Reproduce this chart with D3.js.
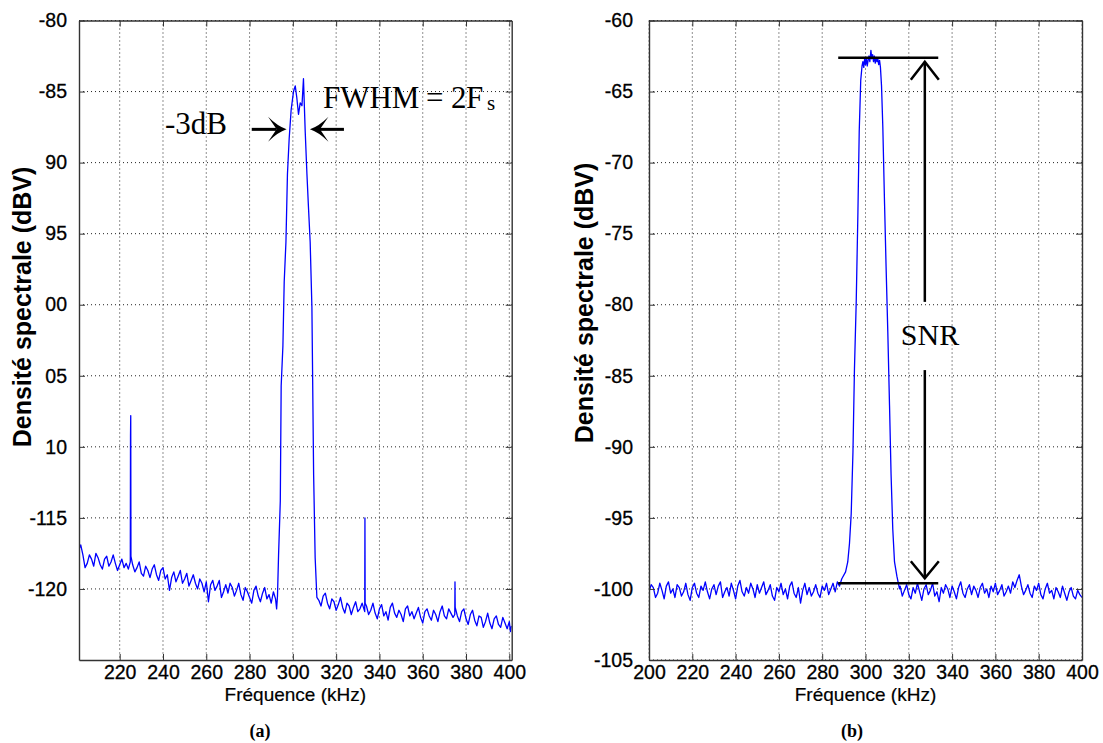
<!DOCTYPE html>
<html><head><meta charset="utf-8">
<script src="https://cdn.jsdelivr.net/npm/d3@7"></script>
<style>body{margin:0;background:#fff}svg{display:block}</style>
</head><body>
<svg id="c" width="1103" height="743"></svg>
<script>
// ---------- Panel (a) data ----------
const freqA = [201,202,203,204,205,206,207,208,209,210,211,212,213,214,215,216,217,218,219,220,221,222,223,224,224.9,225.0,225.1,225.2,226,227,228,229,230,231,232,233,234,235,236,237,238,239,240,241,242,243,244,245,246,247,248,249,250,251,252,253,254,255,256,257,258,259,260,261,262,263,264,265,266,267,268,269,270,271,272,273,274,275,276,277,278,279,280,281,282,283,284,285,286,287,288,289,290,291,292,292.5,292.9,
293.4,294.2,294.6,295.4,296.0,296.8,297.5,298.3,299.2,300.3,301.1,301.8,302.6,303.4,304.2,304.9,305.7,306.5,307.2,308.0,308.8,309.6,310.3,311.1,
312,313,314,315,316,317,318,319,320,321,322,323,324,325,326,327,328,329,330,331,332,333.2,333.3,333.4,334,335,336,337,338,339,340,341,342,343,344,345,346,347,348,349,350,351,352,353,354,355,356,357,358,359,360,361,362,363,364,365,366,367,368,369,370,371,372,373,374,374.8,374.9,375.0,376,377,378,379,380,381,382,383,384,385,386,387,388,389,390,391,392,393,394,395,396,397,398,399,400,400.5,401];
const valA = [-117.3,-116.9,-117.6,-118.5,-118.2,-117.6,-117.9,-118.4,-117.5,-117.8,-118.3,-118.6,-117.9,-117.7,-118.4,-118.1,-117.6,-118.2,-118.7,-118.3,-117.9,-118.5,-118.2,-118.6,
-118.1,-109.2,-107.8,-117.7,
-118.3,-118.8,-118.5,-118.1,-118.9,-119.1,-118.4,-118.7,-119.2,-118.6,-118.3,-119.0,-119.4,-118.7,-118.5,-119.3,-119.0,-120.1,-119.2,-118.8,-119.5,-119.1,-118.7,-119.6,-119.3,-118.9,-119.8,-119.4,-119.0,-119.6,-120.0,-119.3,-119.6,-120.2,-119.5,-120.9,-119.7,-119.4,-120.1,-119.8,-119.4,-120.6,-120.2,-119.7,-120.3,-119.6,-119.9,-120.5,-120.1,-119.6,-120.4,-120.8,-119.9,-120.2,-120.6,-121.0,-120.1,-119.8,-120.5,-120.9,-120.3,-119.9,-120.7,-120.4,-121.0,-120.2,-120.7,
-121.4,-120.5,
-117.6,-113.8,-105.7,-102.9,-98.4,-95.6,-90.8,-88.3,-86.3,-85.0,-84.6,-85.4,-86.6,-85.8,-86.0,-84.1,-87.8,-90.8,-93.1,-95.6,-100.2,-112.0,-117.8,-120.6,
-120.8,-121.2,-120.5,-120.3,-121.0,-121.4,-120.7,-120.9,-121.5,-121.1,-120.6,-121.3,-121.7,-121.0,-121.2,-121.8,-121.3,-120.9,-121.6,-121.4,-121.0,
-121.6,-115.0,-121.0,
-121.2,-121.8,-121.5,-121.0,-121.7,-122.1,-121.4,-121.1,-121.9,-121.6,-122.2,-121.3,-121.0,-121.7,-122.0,-121.5,-121.8,-122.3,-121.4,-121.2,-121.9,-121.6,-122.1,-121.7,-121.3,-122.0,-122.4,-121.6,-121.4,-121.9,-122.2,-121.5,-121.8,-122.3,-121.6,-121.2,-121.9,-122.1,-121.4,-121.7,-122.0,
-121.8,-119.5,-121.3,
-121.9,-122.3,-121.6,-121.4,-122.1,-122.5,-121.8,-121.5,-122.2,-122.6,-121.9,-122.0,-122.7,-122.3,-121.7,-122.4,-122.8,-122.1,-121.9,-122.5,-122.7,-122.0,-122.4,-122.8,-122.3,
-123.0,-122.6];
const xTicksA = [220,240,260,280,300,320,340,360,380,400];
const yTicksA = [-80,-85,-90,-95,-100,-105,-110,-115,-120];
const yLabelsA = ["-80","-85","90","95","00","05","10","-115","-120"];

// ---------- Panel (b) data ----------
const freqB = [200,201,202,203,204,205,206,207,208,209,210,211,212,213,214,215,216,217,218,219,220,221,222,223,224,225,226,227,228,229,230,231,232,233,234,235,236,237,238,239,240,241,242,243,244,245,246,247,248,249,250,251,252,253,254,255,256,257,258,259,260,261,262,263,264,265,266,267,268,269,270,271,272,273,274,275,276,277,278,279,280,281,282,283,284,285,286,287,288,289,
290.8,291.8,292.6,293.4,294.2,294.9,295.7,296.5,297.1,297.8,298.4,298.8,299.2,299.6,300.0,300.4,300.8,301.2,301.6,302.0,302.5,302.9,303.3,303.7,304.1,304.5,304.9,305.3,305.7,306.1,306.5,306.9,307.4,308.0,308.8,309.5,310.3,311.1,311.8,312.6,313.4,314.5,315.7,
316,317,318,319,320,321,322,323,324,325,326,327,328,329,330,331,332,333,334,335,336,337,338,339,340,341,342,343,344,345,346,347,348,349,350,351,352,353,354,355,356,357,358,359,360,361,362,363,364,365,366,367,368,369,370,371,372,373,374,375,376,377,378,379,380,381,382,383,384,385,386,387,388,389,390,391,392,393,394,395,396,397,398,399,400];
const valB = [-100.2,-99.7,-99.9,-100.6,-100.3,-99.6,-100.1,-100.7,-99.8,-99.5,-100.3,-100.0,-100.6,-99.7,-99.9,-100.5,-100.2,-99.6,-100.4,-100.8,-99.9,-99.6,-100.3,-100.6,-99.8,-100.1,-99.5,-100.2,-100.7,-100.0,-99.7,-100.4,-99.8,-99.5,-100.6,-100.2,-99.9,-100.5,-99.6,-100.1,-100.7,-99.8,-99.4,-100.2,-100.5,-99.9,-100.3,-99.6,-100.0,-100.6,-99.7,-100.3,-99.9,-99.5,-100.4,-100.1,-99.7,-100.5,-100.8,-99.9,-100.2,-99.6,-100.4,-100.0,-100.7,-99.8,-99.5,-100.3,-100.6,-99.9,-101.0,-100.1,-99.6,-100.4,-99.9,-100.5,-100.2,-99.7,-100.3,-100.6,-99.8,-100.1,-99.6,-100.4,-100.0,-99.6,-100.2,-99.5,-99.8,-99.3,
-98.8,-98.1,-96.8,-94.7,-90.4,-84.5,-79.9,-73.5,-67.8,-64.2,-63.2,-62.9,-63.3,-62.7,-63.1,-62.6,-63.2,-62.8,-62.5,-62.9,-62.1,-62.7,-62.4,-62.9,-62.5,-63.0,-62.6,-62.9,-62.7,-63.1,-62.8,-63.3,-64.6,-67.5,-72.9,-77.3,-81.9,-87.1,-91.9,-95.8,-98.1,-99.1,-100.0,
-99.8,-100.5,-100.1,-99.7,-100.4,-100.7,-99.9,-100.3,-99.6,-100.2,-100.8,-100.0,-99.7,-100.4,-100.1,-99.6,-100.5,-100.2,-100.9,-99.9,-100.3,-99.7,-100.0,-100.6,-99.8,-100.2,-100.7,-99.9,-99.5,-100.3,-100.6,-100.0,-99.7,-100.4,-99.8,-100.1,-100.6,-99.9,-99.6,-100.3,-100.0,-100.6,-99.8,-100.2,-99.6,-100.4,-100.1,-99.7,-100.5,-100.2,-99.8,-100.3,-99.5,-99.9,-99.4,-99.0,-99.8,-100.4,-100.1,-99.7,-100.3,-100.6,-99.8,-100.1,-99.6,-100.4,-100.7,-100.0,-99.6,-100.3,-100.1,-100.7,-99.9,-100.2,-100.6,-99.8,-100.3,-100.8,-100.2,-99.9,-100.5,-100.7,-100.1,-100.4,-100.6];
const xTicksB = [200,220,240,260,280,300,320,340,360,380,400];
const yTicksB = [-60,-65,-70,-75,-80,-85,-90,-95,-100,-105];
const yLabelsB = ["-60","-65","-70","-75","-80","-85","-90","-95","-100","-105"];

const svg = d3.select("#c");
const SANS = "'Liberation Sans', Arial, sans-serif";
const SERIF = "'Liberation Serif', 'Times New Roman', serif";

function panel(cfg){
  const g = svg.append("g");
  const x = d3.scaleLinear().domain(cfg.xDomain).range([cfg.x0, cfg.x1]);
  const y = d3.scaleLinear().domain(cfg.yDomain).range([cfg.y1, cfg.y0]);
  const cid = "clip" + cfg.id;
  svg.append("clipPath").attr("id", cid).append("rect")
    .attr("x", cfg.x0).attr("y", cfg.y0).attr("width", cfg.x1 - cfg.x0).attr("height", cfg.y1 - cfg.y0);
  // grid
  g.append("g").selectAll("line").data(cfg.xTicks).join("line")
    .attr("x1", d => x(d)).attr("x2", d => x(d)).attr("y1", cfg.y0).attr("y2", cfg.y1)
    .attr("stroke", "#222").attr("stroke-width", 1).attr("stroke-dasharray", "1,3");
  g.append("g").selectAll("line").data(cfg.yTicks).join("line")
    .attr("x1", cfg.x0).attr("x2", cfg.x1).attr("y1", d => y(d)).attr("y2", d => y(d))
    .attr("stroke", "#222").attr("stroke-width", 1).attr("stroke-dasharray", "1,3");
  // data line
  const n = Math.min(cfg.freq.length, cfg.val.length);
  const pts = cfg.freq.slice(0, n).map((f, i) => [f, cfg.val[i]]);
  g.append("path").datum(pts).attr("clip-path", `url(#${cid})`)
    .attr("fill", "none").attr("stroke", "#0000ff").attr("stroke-width", 1.3)
    .attr("stroke-linejoin", "round")
    .attr("d", d3.line().x(d => x(d[0])).y(d => y(d[1])));
  // axes
  const axStyle = sel => { sel.attr("color", "#333"); sel.select(".domain").attr("stroke-width", 1.4); sel.selectAll(".tick line").attr("stroke-width", 1); };
  const txt = s => s.selectAll("text").attr("font-family", SANS).attr("font-size", 19.5)
    .attr("fill", "#000").attr("stroke", "#000").attr("stroke-width", 0.3);
  g.append("g").attr("transform", `translate(0,${cfg.y1})`)
    .call(d3.axisBottom(x).tickValues(cfg.xTicks).tickFormat(d3.format("d")).tickSizeInner(-6).tickSizeOuter(0).tickPadding(5))
    .call(axStyle).call(txt);
  g.append("g").attr("transform", `translate(0,${cfg.y0})`)
    .call(d3.axisTop(x).tickValues(cfg.xTicks).tickFormat("").tickSizeInner(-6).tickSizeOuter(0)).call(axStyle);
  g.append("g").attr("transform", `translate(${cfg.x0},0)`)
    .call(d3.axisLeft(y).tickValues(cfg.yTicks).tickFormat((d, i) => cfg.yLabels[i]).tickSizeInner(-6).tickSizeOuter(0).tickPadding(cfg.yPad))
    .call(axStyle).call(txt);
  g.append("g").attr("transform", `translate(${cfg.x1},0)`)
    .call(d3.axisRight(y).tickValues(cfg.yTicks).tickFormat("").tickSizeInner(-6).tickSizeOuter(0)).call(axStyle);
  // labels
  svg.append("text").attr("x", (cfg.x0 + cfg.x1) / 2).attr("y", 701)
    .attr("text-anchor", "middle").attr("font-family", SANS).attr("font-size", 19)
    .attr("stroke", "#000").attr("stroke-width", 0.2).text("Fréquence (kHz)");
  svg.append("text").attr("transform", `translate(${cfg.yLabelX},${cfg.yLabelY}) rotate(-90)`)
    .attr("text-anchor", "middle").attr("font-family", SANS).attr("font-weight", "bold").attr("font-size", 25)
    .text("Densité spectrale (dBV)");
  svg.append("text").attr("x", cfg.tagX).attr("y", 737).attr("text-anchor", "middle")
    .attr("font-family", SERIF).attr("font-weight", "bold").attr("font-size", 18).text(cfg.tag);
  return {x, y, g};
}

const A = panel({id:"a", freq:freqA, val:valA, xDomain:[201.2, 401.1], yDomain:[-125, -80],
  x0:79, x1:511.7, y0:20.5, y1:660, xTicks:xTicksA, yTicks:yTicksA, yLabels:yLabelsA, yPad:12,
  yLabelX:31, yLabelY:307, tag:"(a)", tagX:260});
const B = panel({id:"b", freq:freqB, val:valB, xDomain:[200, 400], yDomain:[-105, -60],
  x0:649, x1:1082, y0:20.5, y1:660, xTicks:xTicksB, yTicks:yTicksB, yLabels:yLabelsB, yPad:16,
  yLabelX:593, yLabelY:303, tag:"(b)", tagX:852});

// ---------- Annotations panel (a) ----------
function filledArrow(g, tailX, tipX, yy, dir){
  g.append("line").attr("x1", tailX).attr("x2", tipX - dir * 10).attr("y1", yy).attr("y2", yy)
    .attr("stroke", "#000").attr("stroke-width", 3);
  const L = 18.5, W = 12.5, N = 10;
  g.append("path").attr("fill", "#000")
    .attr("d", `M${tipX},${yy} Q${tipX - dir*9},${yy - 3} ${tipX - dir*L},${yy - W} L${tipX - dir*N},${yy} L${tipX - dir*L},${yy + W} Q${tipX - dir*9},${yy + 3} ${tipX},${yy} Z`);
}
const ga = svg.append("g");
const arrowYA = A.y(-87.66);
filledArrow(ga, A.x(281.0), A.x(297.1), arrowYA, 1);
filledArrow(ga, A.x(323.6), A.x(307.9), arrowYA, -1);
ga.append("text").attr("x", A.x(240.9)).attr("y", A.y(-88.0)).attr("font-family", SERIF).attr("font-size", 31).text("-3dB");
const fx = A.x(313.9), fy = A.y(-86.18);
ga.append("text").attr("x", fx).attr("y", fy).attr("font-family", SERIF).attr("font-size", 31).text("FWHM");
ga.append("text").attr("x", fx + 103).attr("y", fy).attr("font-family", SERIF).attr("font-size", 31).text("=");
ga.append("text").attr("x", fx + 128).attr("y", fy).attr("font-family", SERIF).attr("font-size", 31).text("2");
ga.append("text").attr("x", fx + 143).attr("y", fy).attr("font-family", SERIF).attr("font-size", 31).text("F");
ga.append("text").attr("x", fx + 164).attr("y", fy + 2).attr("font-family", SERIF).attr("font-size", 21).text("s");

// ---------- Annotations panel (b) ----------
const gb = svg.append("g").attr("stroke", "#000").attr("fill", "none");
const ax = B.x(327.4);
gb.append("line").attr("x1", B.x(287.4)).attr("x2", B.x(333.6)).attr("y1", B.y(-62.62)).attr("y2", B.y(-62.62)).attr("stroke-width", 2.5);
gb.append("line").attr("x1", B.x(287.4)).attr("x2", B.x(333.6)).attr("y1", B.y(-99.6)).attr("y2", B.y(-99.6)).attr("stroke-width", 2.5);
const tipTop = B.y(-62.9), tipBot = B.y(-99.25);
gb.append("line").attr("x1", ax).attr("x2", ax).attr("y1", tipTop).attr("y2", B.y(-79.8)).attr("stroke-width", 2.5);
gb.append("line").attr("x1", ax).attr("x2", ax).attr("y1", B.y(-84.6)).attr("y2", tipBot).attr("stroke-width", 2.5);
gb.append("path").attr("stroke-width", 2.5).attr("d", `M${ax-14},${tipTop+18} L${ax},${tipTop} L${ax+14},${tipTop+18}`);
gb.append("path").attr("stroke-width", 2.5).attr("d", `M${ax-14},${tipBot-17} L${ax},${tipBot} L${ax+14},${tipBot-17}`);
svg.append("text").attr("x", B.x(329.8)).attr("y", B.y(-82.84)).attr("text-anchor", "middle")
  .attr("font-family", SERIF).attr("font-size", 30).text("SNR");
</script>
</body></html>
